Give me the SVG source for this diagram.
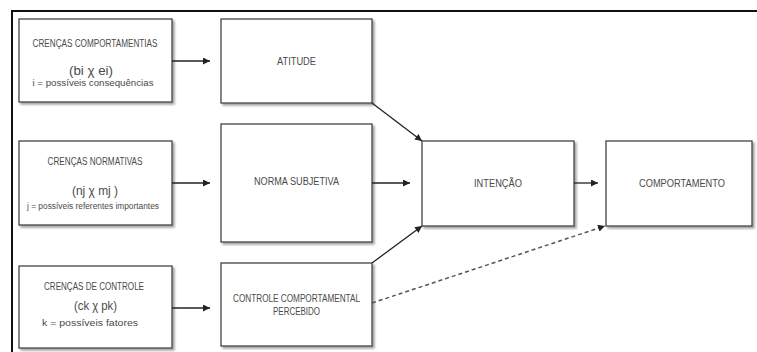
<svg xmlns="http://www.w3.org/2000/svg" width="757" height="352" viewBox="0 0 757 352">
<defs>
<marker id="ah" viewBox="0 0 10 10" refX="10" refY="5" markerWidth="7" markerHeight="7" markerUnits="userSpaceOnUse" orient="auto">
<path d="M0,0 L10,5 L0,10 z" fill="#222"/>
</marker>
<filter id="sh" x="-5%" y="-5%" width="115%" height="120%">
<feDropShadow dx="2" dy="2" stdDeviation="0.8" flood-color="#888" flood-opacity="0.8"/>
</filter>
</defs>
<style>
.box{fill:#fff;stroke:#444;stroke-width:1.3;filter:url(#sh)}
.t{font-family:"Liberation Sans",Arial,sans-serif;fill:#4a4a4a;text-anchor:middle}
.c{stroke:#222;stroke-width:1.3;fill:none;marker-end:url(#ah)}
.d{stroke:#555;stroke-width:1.5;fill:none;stroke-dasharray:4,3;marker-end:url(#ah)}
</style>
<rect width="757" height="352" fill="#fff"/>
<path d="M757,11 H12 V352" fill="none" stroke="#111" stroke-width="2"/>

<g id="crencas-comportamentais">
<rect class="box" x="19" y="19" width="153" height="83"/>
<text class="t" x="95" y="47" font-size="10" textLength="125" lengthAdjust="spacingAndGlyphs">CRENÇAS COMPORTAMENTIAS</text>
<text class="t" x="91" y="75" font-size="13" textLength="44" lengthAdjust="spacingAndGlyphs">(bi χ ei)</text>
<text class="t" x="93" y="86" font-size="9.5" textLength="121" lengthAdjust="spacingAndGlyphs">i = possíveis consequências</text>
</g>

<g id="crencas-normativas">
<rect class="box" x="19" y="141" width="153" height="84"/>
<text class="t" x="95" y="165" font-size="10" textLength="95" lengthAdjust="spacingAndGlyphs">CRENÇAS NORMATIVAS</text>
<text class="t" x="95" y="195" font-size="13" textLength="46" lengthAdjust="spacingAndGlyphs">(nj χ mj )</text>
<text class="t" x="93" y="209" font-size="8.5" textLength="132" lengthAdjust="spacingAndGlyphs">j = possíveis referentes importantes</text>
</g>

<g id="crencas-controle">
<rect class="box" x="19" y="266" width="153" height="82"/>
<text class="t" x="94" y="290" font-size="10" textLength="100" lengthAdjust="spacingAndGlyphs">CRENÇAS DE CONTROLE</text>
<text class="t" x="95.5" y="310" font-size="13" textLength="43" lengthAdjust="spacingAndGlyphs">(ck χ pk)</text>
<text class="t" x="90" y="326" font-size="9.5" textLength="96" lengthAdjust="spacingAndGlyphs">k = possíveis fatores</text>
</g>

<g id="atitude">
<rect class="box" x="221" y="19" width="151" height="84"/>
<text class="t" x="296.5" y="65" font-size="10" textLength="39" lengthAdjust="spacingAndGlyphs">ATITUDE</text>
</g>

<g id="norma-subjetiva">
<rect class="box" x="221" y="124" width="151" height="118"/>
<text class="t" x="296.5" y="185" font-size="10" textLength="85" lengthAdjust="spacingAndGlyphs">NORMA SUBJETIVA</text>
</g>

<g id="controle-comportamental">
<rect class="box" x="221" y="263" width="151" height="83"/>
<text class="t" x="296.5" y="302" font-size="10" textLength="127" lengthAdjust="spacingAndGlyphs">CONTROLE COMPORTAMENTAL</text>
<text class="t" x="296.5" y="315" font-size="10" textLength="47" lengthAdjust="spacingAndGlyphs">PERCEBIDO</text>
</g>

<g id="intencao">
<rect class="box" x="422" y="141" width="152" height="85"/>
<text class="t" x="498" y="187" font-size="10" textLength="48" lengthAdjust="spacingAndGlyphs">INTENÇÃO</text>
</g>

<g id="comportamento">
<rect class="box" x="606" y="141" width="146" height="85"/>
<text class="t" x="682" y="187" font-size="10" textLength="86" lengthAdjust="spacingAndGlyphs">COMPORTAMENTO</text>
</g>

<g id="connectors">
<line class="c" x1="172" y1="61" x2="210" y2="61"/>
<line class="c" x1="172" y1="183" x2="210" y2="183"/>
<line class="c" x1="172" y1="308" x2="210" y2="308"/>
<line class="c" x1="372" y1="183" x2="410" y2="183"/>
<line class="c" x1="372" y1="103" x2="422" y2="141"/>
<line class="c" x1="372" y1="263" x2="422" y2="226"/>
<line class="c" x1="574" y1="183" x2="598" y2="183"/>
<line class="d" x1="372" y1="303" x2="605" y2="226"/>
</g>
</svg>
